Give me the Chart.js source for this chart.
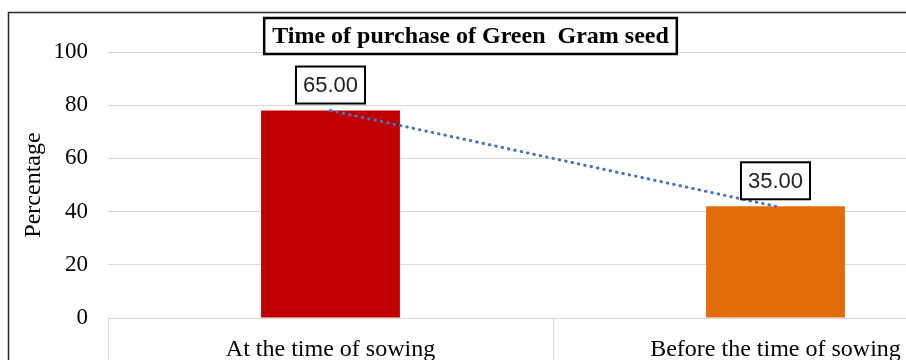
<!DOCTYPE html>
<html>
<head>
<meta charset="utf-8">
<script src="https://cdn.jsdelivr.net/npm/chart.js@4"></script>
<style>
  html,body{margin:0;padding:0;background:#fff;overflow:hidden;width:906px;height:360px}
  #wrap{position:absolute;left:0;top:0}
</style>
</head>
<body>
<div id="wrap"><canvas id="chart" width="1010" height="360"></canvas></div>
<script>
// data
const categories = ["At the time of sowing", "Before the time of sowing"];
const percentages = [78, 42];
const labelTexts = ["65.00", "35.00"];
const barColors = ["#C00000", "#E36C0A"];
const yTicks = [0, 20, 40, 60, 80, 100];
const chartTitle = "Time of purchase of Green  Gram seed";

const serif = "'Liberation Serif', 'Times New Roman', serif";
const sans = "'Liberation Sans', Arial, sans-serif";

/* frame, boxed title and boxed value labels */
const decor = {
  id: "decor",
  beforeDraw(c) {
    const g = c.ctx;
    g.save();
    g.fillStyle = "#fff";
    g.fillRect(0, 0, c.width, c.height);
    g.strokeStyle = "#2b2b2b";
    g.lineWidth = 1.5;
    g.beginPath();
    g.moveTo(8.5, c.height + 5);
    g.lineTo(8.5, 12.5);
    g.lineTo(c.width + 5, 12.5);
    g.stroke();
    g.restore();
  },
  afterDraw(c) {
    const g = c.ctx;
    g.save();
    // title
    g.font = "bold 24px " + serif;
    g.textAlign = "center";
    g.textBaseline = "middle";
    const tx = 470.5, ty = 36;
    const tw = g.measureText(chartTitle).width;
    g.fillStyle = "#fff";
    g.fillRect(tx - tw / 2 - 8, ty - 18, tw + 16, 36);
    g.strokeStyle = "#000";
    g.lineWidth = 2.5;
    g.strokeRect(tx - tw / 2 - 8, ty - 18, tw + 16, 36);
    g.fillStyle = "#000";
    g.fillText(chartTitle, tx, ty + 1);

    // value labels
    g.font = "22px " + sans;
    c.getDatasetMeta(1).data.forEach((bar, i) => {
      const w = g.measureText(labelTexts[i]).width + 14;
      const h = 37;
      const bx = bar.x - w / 2, by = bar.y - 7 - h;
      g.fillStyle = "#fff";
      g.fillRect(bx, by, w, h);
      g.strokeStyle = "#000";
      g.lineWidth = 2;
      g.strokeRect(bx, by, w, h);
      g.fillStyle = "#222";
      g.fillText(labelTexts[i], bar.x, by + h / 2 + 1);
    });
    g.restore();
  }
};

new Chart(document.getElementById("chart"), {
  data: {
    labels: categories,
    datasets: [
      {
        type: "line",
        data: percentages,
        order: 0,
        borderColor: "#4472C4",
        borderWidth: 3,
        borderDash: [0.5, 6],
        borderCapStyle: "round",
        pointRadius: 0,
        fill: false,
        tension: 0
      },
      {
        type: "bar",
        data: percentages,
        order: 1,
        backgroundColor: barColors,
        borderWidth: 0,
        categoryPercentage: 1,
        barPercentage: 0.312
      }
    ]
  },
  options: {
    responsive: false,
    animation: false,
    devicePixelRatio: 1,
    layout: {padding: {left: 8, top: 52, right: 12, bottom: 0}},
    plugins: {legend: {display: false}, tooltip: {enabled: false}, title: {display: false}},
    scales: {
      x: {
        grid: {offset: true, drawOnChartArea: false, drawTicks: true, tickLength: 42, color: "#d9d9d9"},
        border: {display: true, color: "#d9d9d9"},
        ticks: {font: {family: serif, size: 24}, color: "#000", padding: -25, maxRotation: 0},
        afterFit(s) { s.height = 42; }
      },
      y: {
        min: 0,
        max: 100,
        afterBuildTicks(s) { s.ticks = yTicks.map(v => ({value: v})); },
        grid: {drawTicks: false, color: "#d9d9d9"},
        border: {display: false},
        ticks: {font: {family: serif, size: 23}, color: "#000", padding: 20},
        title: {display: true, text: "Percentage", font: {family: serif, size: 24}, color: "#000", padding: {top: 11, bottom: 0}},
        afterFit(s) { s.width = 100; }
      }
    }
  },
  plugins: [decor]
});
</script>
</body>
</html>
